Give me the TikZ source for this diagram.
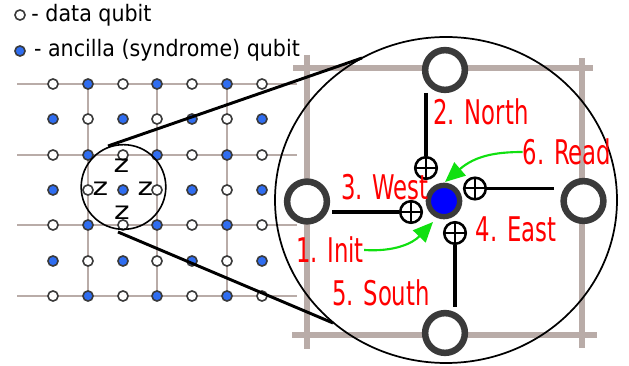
\documentclass[tikz,border=0pt]{standalone}
\usepackage{fontspec}
\setmainfont{DejaVu Sans}
\usetikzlibrary{arrows.meta,positioning,shapes.geometric}
\definecolor{latticegray}{HTML}{B9ACA8}
\definecolor{ringgray}{HTML}{3A3A3A}
\definecolor{ancillablue}{HTML}{2F6DF0}
\definecolor{arrowgreen}{HTML}{10E010}
\tikzstyle{data} = [circle, draw=ringgray, line width=1.2pt, fill=white, inner sep=0pt, minimum size=7.6pt]
\tikzstyle{ancilla} = [circle, draw=ringgray, line width=1.2pt, fill=ancillablue, inner sep=0pt, minimum size=7.6pt]
\tikzstyle{thinlattice} = [draw=latticegray, line width=1.6pt]
\tikzstyle{thicklattice} = [draw=latticegray, line width=4.5pt]
\tikzstyle{bigdata} = [circle, draw=ringgray, line width=4.9pt, fill=white, inner sep=0pt, minimum size=29.8pt]
\tikzstyle{target} = [circle, draw=black, line width=1.9pt, inner sep=0pt, minimum size=16.2pt, fill=white,
	path picture={\draw[line width=1.5pt] (path picture bounding box.north) -- (path picture bounding box.south)
	(path picture bounding box.east) -- (path picture bounding box.west);}]
\tikzstyle{step label} = [text=red, font=\fontsize{25.5}{28}\selectfont, xscale=0.67, inner sep=0pt]
\tikzstyle{legend} = [font=\fontsize{17}{19}\selectfont, xscale=0.91, inner sep=0pt, anchor=west]
\tikzstyle{stabz} = [font=\fontsize{18.5}{20}\selectfont, xscale=1.2, inner sep=0pt]
\tikzstyle{cnotline} = [line width=2.4pt]
\tikzstyle{greenarrow} = [draw=arrowgreen, line width=1.6pt, -{Triangle[length=15pt,width=13pt]}]
\begin{document}
\begin{tikzpicture}[x=0.75pt,y=-0.75pt]
\useasboundingbox (0,0) rectangle (629,366);

% small lattice
\foreach \y in {84,155,225,296} \draw[thinlattice] (17,\y) -- (297,\y);
\foreach \x in {88,157,227} \draw[thinlattice] (\x,84) -- (\x,296);

\foreach \y/\i in {84/0,155/2,225/4,296/6} {
	\foreach \x/\j/\kind in {53/0/data,88/1/ancilla,123/2/data,157/3/ancilla,192/4/data,227/5/ancilla,262/6/data}
		\node[\kind] (q\i\j) at (\x,\y) {};
}
\foreach \y/\i in {119/1,190/3,261/5} {
	\foreach \x/\j/\kind in {53/0/ancilla,88/1/data,123/2/ancilla,157/3/data,192/4/ancilla,227/5/data,262/6/ancilla}
		\node[\kind] (q\i\j) at (\x,\y) {};
}

% legend
\node[data] (legenddata) at (20,15) {};
\node[legend, right=4pt of legenddata, yshift=-0.5pt] (legenddatatext) {- data qubit};
\node[ancilla] (legendancilla) at (20,51) {};
\node[legend, right=6pt of legendancilla, yshift=0.5pt] (legendancillatext) {- ancilla (syndrome) qubit};

% zoomed lattice
\draw[thicklattice] (293,68) -- (593,68);
\draw[thicklattice] (292,335) -- (597,335);
\draw[thicklattice] (307,55) -- (307,349);
\draw[thicklattice] (582,58) -- (582,348);

% magnifier
\node[draw, circle, line width=1.2pt, minimum size=63.5pt, inner sep=0pt] (lens) at (123.5,187) {};
\node[draw, ellipse, line width=1.3pt, minimum width=256.5pt, minimum height=244.5pt, inner sep=0pt] (bigcircle) at (446,200) {};
\coordinate (lenstop) at (108,146);
\coordinate (lensbottom) at (118,232);
\coordinate (bigtop) at (362,58);
\coordinate (bigbottom) at (333,323);
\draw[line width=2.2pt] (lenstop) -- (bigtop);
\draw[line width=2.2pt] (lensbottom) -- (bigbottom);

\node[stabz] (ztop) at (121.5,166) {z};
\node[stabz] (zleft) at (100.5,188.5) {z};
\node[stabz] (zright) at (145.5,189) {z};
\node[stabz] (zbottom) at (122,212.5) {z};

% plaquette
\node[bigdata] (north) at (445,70) {};
\node[bigdata] (west) at (307,201.5) {};
\node[bigdata] (east) at (583.5,201) {};
\node[bigdata] (south) at (445,333) {};
\node[circle, draw=ringgray, line width=4pt, fill=blue, inner sep=0pt, minimum size=23.5pt] (center) at (444,201) {};

\node[target] (tnorth) at (426,168) {};
\node[target] (teast) at (475,188.5) {};
\node[target] (twest) at (411,212) {};
\node[target] (tsouth) at (455,233) {};
\coordinate (fnorth) at (426,93);
\coordinate (feast) at (554,188.5);
\coordinate (fwest) at (332,212);
\coordinate (fsouth) at (455,307);
\draw[cnotline] (fnorth) -- (tnorth);
\draw[cnotline] (feast) -- (teast);
\draw[cnotline] (fwest) -- (twest);
\draw[cnotline] (fsouth) -- (tsouth);

\node[step label] (lnorth) at (481,112) {2. North};
\node[step label] (lread) at (567,152) {6. Read};
\node[step label] (lwest) at (385,187) {3. West};
\node[step label] (least) at (516,229) {4. East};
\node[step label] (linit) at (330,250) {1. Init};
\node[step label] (lsouth) at (381,293) {5. South};

\coordinate (readtip) at (445,182);
\coordinate (inittip) at (433,222);
\draw[greenarrow] (lread.west) .. controls (495,152) and (475,156) .. (readtip);
\draw[greenarrow] (linit.east) .. controls (395,252) and (413,243) .. (inittip);

\end{tikzpicture}
\end{document}
